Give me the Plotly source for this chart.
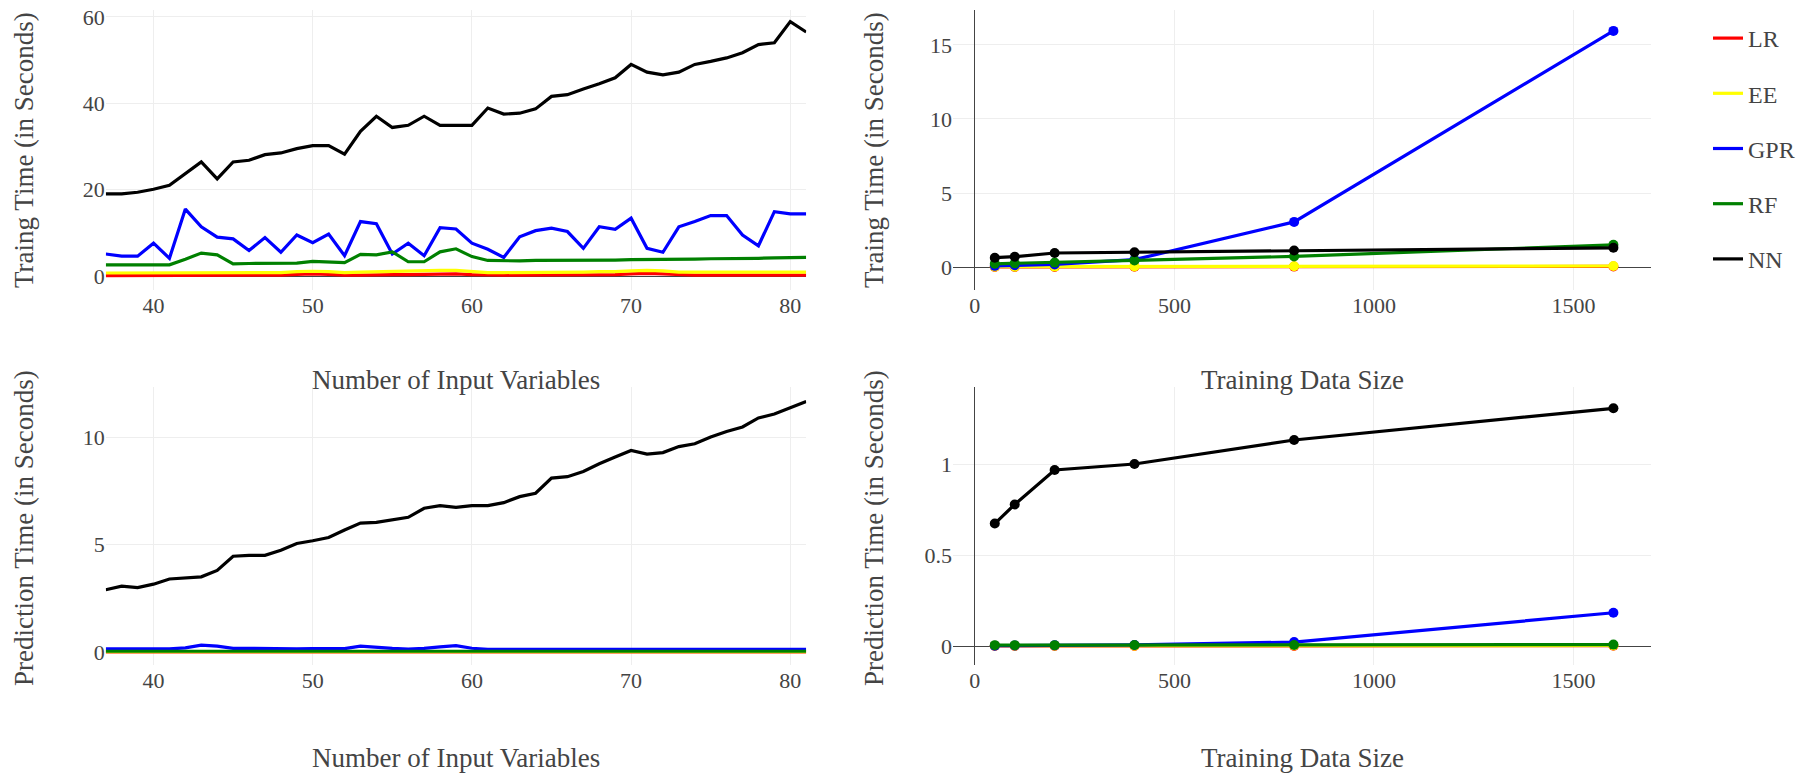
import plotly.graph_objects as go

# ---------------- data ----------------
n_vars = list(range(37, 82))  # Number of Input Variables
models = ["LR", "EE", "GPR", "RF", "NN"]
colors = {"LR": "#ff0000", "EE": "#ffff00", "GPR": "#0000ff", "RF": "#008000", "NN": "#000000"}

# Training time vs number of input variables
train_vars_LR = [0.1, 0.1, 0.1, 0.1, 0.1, 0.2, 0.2, 0.1, 0.1, 0.1, 0.1, 0.2,
                 0.4, 0.5, 0.4, 0.2, 0.2, 0.3, 0.3, 0.3, 0.4, 0.5, 0.5, 0.3,
                 0.2, 0.2, 0.2, 0.2, 0.2, 0.2, 0.3, 0.3, 0.3, 0.5, 0.6, 0.5,
                 0.3, 0.2, 0.2, 0.2, 0.2, 0.2, 0.2, 0.2, 0.2]
train_vars_EE = [0.7, 0.7, 0.7, 0.7, 0.7, 0.8, 0.8, 0.7, 0.7, 0.7, 0.7, 0.8,
                 1.0, 1.1, 1.0, 0.8, 0.9, 1.0, 1.0, 1.1, 1.2, 1.3, 1.3, 1.0,
                 0.8, 0.8, 0.8, 0.8, 0.9, 0.9, 0.9, 1.0, 1.0, 1.2, 1.3, 1.2,
                 0.9, 0.9, 0.9, 0.9, 0.9, 0.9, 0.9, 0.9, 0.9]
train_vars_GPR = [5.1, 4.6, 4.6, 7.6, 4.1, 15.5, 11.4, 9.0, 8.6, 5.9, 8.9, 5.5,
                  9.5, 7.7, 9.7, 4.7, 12.6, 12.1, 5.1, 7.6, 4.7, 11.2, 10.9, 7.6,
                  6.2, 4.3, 9.1, 10.5, 11.1, 10.3, 6.4, 11.4, 10.8, 13.4, 6.4, 5.5,
                  11.4, 12.6, 14.0, 14.0, 9.5, 7.0, 14.9, 14.4, 14.4]
train_vars_RF = [2.6, 2.6, 2.6, 2.6, 2.6, 3.9, 5.3, 4.9, 2.8, 2.9, 2.9, 2.9,
                 3.0, 3.4, 3.3, 3.1, 5.0, 4.9, 5.6, 3.3, 3.3, 5.6, 6.3, 4.5,
                 3.6, 3.5, 3.5, 3.6, 3.6, 3.6, 3.6, 3.7, 3.7, 3.8, 3.8, 3.9,
                 3.9, 3.9, 4.0, 4.0, 4.1, 4.1, 4.2, 4.2, 4.3]
train_vars_NN = [19.0, 19.0, 19.4, 20.1, 21.0, 23.8, 26.4, 22.5, 26.4, 26.8, 28.1, 28.5,
                 29.5, 30.2, 30.2, 28.2, 33.5, 37.0, 34.4, 34.9, 37.0, 34.9, 34.9, 34.9,
                 38.9, 37.5, 37.7, 38.7, 41.6, 42.0, 43.3, 44.5, 45.9, 49.0, 47.2, 46.6,
                 47.2, 49.0, 49.7, 50.5, 51.7, 53.6, 54.0, 58.9, 56.5]

# Prediction time vs number of input variables
pred_vars_LR = [0.005, 0.005, 0.005, 0.005, 0.005, 0.005, 0.006, 0.006, 0.005, 0.005, 0.005, 0.005,
                0.005, 0.005, 0.005, 0.005, 0.006, 0.006, 0.005, 0.005, 0.005, 0.006, 0.006, 0.005,
                0.005, 0.005, 0.005, 0.005, 0.005, 0.005, 0.005, 0.005, 0.005, 0.005, 0.005, 0.005,
                0.005, 0.005, 0.005, 0.005, 0.005, 0.005, 0.005, 0.005, 0.005]
pred_vars_EE = [0.02, 0.02, 0.02, 0.02, 0.02, 0.02, 0.03, 0.03, 0.02, 0.02, 0.02, 0.02,
                0.02, 0.02, 0.02, 0.02, 0.03, 0.03, 0.02, 0.02, 0.02, 0.03, 0.03, 0.02,
                0.02, 0.02, 0.02, 0.02, 0.02, 0.02, 0.02, 0.02, 0.02, 0.02, 0.02, 0.02,
                0.02, 0.02, 0.02, 0.02, 0.02, 0.02, 0.02, 0.02, 0.02]
pred_vars_GPR = [0.15, 0.15, 0.15, 0.15, 0.15, 0.2, 0.32, 0.28, 0.17, 0.18, 0.17, 0.14,
                 0.15, 0.16, 0.16, 0.16, 0.28, 0.22, 0.17, 0.14, 0.17, 0.24, 0.3, 0.18,
                 0.13, 0.13, 0.13, 0.13, 0.13, 0.13, 0.13, 0.13, 0.13, 0.13, 0.13, 0.13,
                 0.13, 0.13, 0.13, 0.13, 0.13, 0.13, 0.13, 0.13, 0.13]
pred_vars_RF = [0.04, 0.04, 0.04, 0.04, 0.04, 0.05, 0.07, 0.06, 0.04, 0.04, 0.04, 0.04,
                0.04, 0.04, 0.04, 0.04, 0.06, 0.05, 0.04, 0.04, 0.04, 0.05, 0.06, 0.04,
                0.04, 0.04, 0.04, 0.04, 0.04, 0.04, 0.04, 0.04, 0.04, 0.04, 0.04, 0.04,
                0.04, 0.04, 0.04, 0.04, 0.04, 0.04, 0.04, 0.04, 0.04]
pred_vars_NN = [2.9, 3.07, 3.0, 3.16, 3.4, 3.45, 3.5, 3.8, 4.46, 4.5, 4.5, 4.74,
                5.05, 5.18, 5.33, 5.68, 6.0, 6.03, 6.14, 6.27, 6.69, 6.81, 6.73, 6.81,
                6.81, 6.95, 7.23, 7.39, 8.09, 8.16, 8.4, 8.76, 9.07, 9.38, 9.21, 9.28,
                9.56, 9.69, 10.0, 10.26, 10.47, 10.89, 11.07, 11.35, 11.66]

# Training data size
data_size = [50, 100, 200, 400, 800, 1600]
train_size_LR = [0.01, 0.01, 0.01, 0.02, 0.03, 0.04]
train_size_EE = [0.02, 0.02, 0.03, 0.04, 0.05, 0.07]
train_size_GPR = [0.08, 0.12, 0.18, 0.5, 3.05, 15.95]
train_size_RF = [0.22, 0.25, 0.3, 0.45, 0.72, 1.5]
train_size_NN = [0.63, 0.7, 0.95, 1.0, 1.12, 1.3]

pred_size_LR = [0.001, 0.001, 0.001, 0.001, 0.001, 0.002]
pred_size_EE = [0.002, 0.002, 0.002, 0.002, 0.003, 0.003]
pred_size_GPR = [0.002, 0.003, 0.004, 0.006, 0.022, 0.183]
pred_size_RF = [0.005, 0.005, 0.005, 0.006, 0.006, 0.008]
pred_size_NN = [0.673, 0.778, 0.967, 1.0, 1.132, 1.306]

train_vars = {"LR": train_vars_LR, "EE": train_vars_EE, "GPR": train_vars_GPR,
              "RF": train_vars_RF, "NN": train_vars_NN}
pred_vars = {"LR": pred_vars_LR, "EE": pred_vars_EE, "GPR": pred_vars_GPR,
             "RF": pred_vars_RF, "NN": pred_vars_NN}
train_size = {"LR": train_size_LR, "EE": train_size_EE, "GPR": train_size_GPR,
              "RF": train_size_RF, "NN": train_size_NN}
pred_size = {"LR": pred_size_LR, "EE": pred_size_EE, "GPR": pred_size_GPR,
             "RF": pred_size_RF, "NN": pred_size_NN}

x_title_vars = "Number of Input Variables"
x_title_size = "Training Data Size"
y_title_train = "Traing Time (in Seconds)"
y_title_pred = "Prediction Time (in Seconds)"

# ---------------- figure ----------------
W, H = 1800, 783
FONT = "Liberation Serif, Times New Roman, serif"
fig = go.Figure()

panels = [
    ("x", "y", n_vars, train_vars, "lines"),
    ("x2", "y2", data_size, train_size, "lines+markers"),
    ("x3", "y3", n_vars, pred_vars, "lines"),
    ("x4", "y4", data_size, pred_size, "lines+markers"),
]
for pi, (xa, ya, xs, series, mode) in enumerate(panels):
    for m in models:
        fig.add_trace(go.Scatter(
            x=xs, y=series[m], mode=mode, name=m, legendgroup=m,
            showlegend=(pi == 0), xaxis=xa, yaxis=ya,
            line=dict(color=colors[m], width=3.2),
            marker=dict(color=colors[m], size=10),
        ))

def fx(p):  # page px -> paper x
    return p / W

def fy(p):  # page px -> paper y
    return 1 - p / H

def px_x(a, b):
    return [fx(a), fx(b)]

def px_y(top, bottom):
    return [fy(bottom), fy(top)]

common_ax = dict(showgrid=True, gridcolor="#eeeeee", zeroline=True,
                 zerolinecolor="#444444", zerolinewidth=1, showline=False,
                 ticks="", ticklabeloverflow="allow",
                 tickfont=dict(family=FONT, size=22, color="#444444"))

fig.update_layout(
    template="none",
    width=W, height=H,
    margin=dict(l=0, r=0, t=0, b=0),
    paper_bgcolor="white", plot_bgcolor="white",
    font=dict(family=FONT, color="#444444"),
    xaxis=dict(domain=px_x(106, 808), anchor="y", range=[37, 81], dtick=10, **common_ax),
    yaxis=dict(domain=px_y(10, 290), anchor="x", range=[-3.24, 61.6], dtick=20, **common_ax),
    xaxis2=dict(domain=px_x(955, 1655), anchor="y2", range=[-55, 1695], dtick=500, **common_ax),
    yaxis2=dict(domain=px_y(10, 290), anchor="x2", range=[-1.55, 17.36], dtick=5, **common_ax),
    xaxis3=dict(domain=px_x(106, 808), anchor="y3", range=[37, 81], dtick=10, **common_ax),
    yaxis3=dict(domain=px_y(387, 665), anchor="x3", range=[-0.6, 12.33], dtick=5, **common_ax),
    xaxis4=dict(domain=px_x(955, 1655), anchor="y4", range=[-55, 1695], dtick=500, **common_ax),
    yaxis4=dict(domain=px_y(387, 665), anchor="x4", range=[-0.104, 1.423], dtick=0.5, **common_ax),
    legend=dict(x=fx(1712), y=fy(16), xanchor="left", yanchor="top",
                font=dict(family=FONT, size=24, color="#444444"),
                tracegroupgap=21, bgcolor="rgba(0,0,0,0)"),
)

x_title_font = dict(family=FONT, size=27, color="#444444")
y_title_font = dict(family=FONT, size=27, color="#444444")
annos = [
    (x_title_vars, 457, 380, 0),
    (x_title_size, 1305, 380, 0),
    (x_title_vars, 457, 758, 0),
    (x_title_size, 1305, 758, 0),
    (y_title_train, 24, 150, -90),
    (y_title_train, 876, 150, -90),
    (y_title_pred, 24, 528, -90),
    (y_title_pred, 876, 528, -90),
]
for text, cx, cy, ang in annos:
    fig.add_annotation(text=text, xref="paper", yref="paper", x=fx(cx), y=fy(cy),
                       xanchor="center", yanchor="middle", showarrow=False,
                       textangle=ang,
                       font=(y_title_font if ang else x_title_font))

# remove the browser's default page margin so the figure sits at the window's corner
fig.write_html("out.html",
               config={"displayModeBar": False},
               post_script="document.body.style.margin='0';document.body.style.overflow='hidden';")
